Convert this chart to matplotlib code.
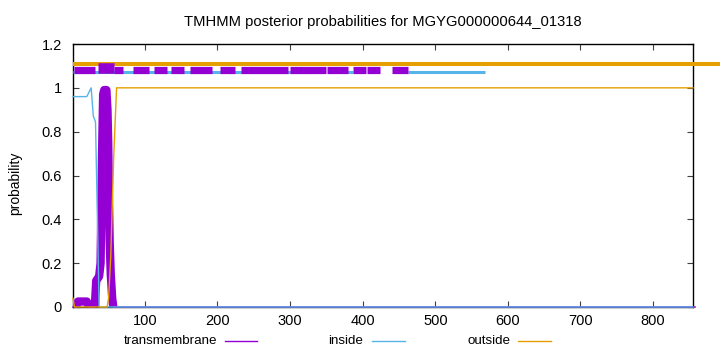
import matplotlib
matplotlib.use("Agg")
import matplotlib.pyplot as plt
from matplotlib.lines import Line2D
import numpy as np

plt.rcParams['font.family'] = ['Liberation Sans', 'DejaVu Sans']

title = "TMHMM posterior probabilities for MGYG000000644_01318"
seq_len = 855

# posterior probability curves (position, probability)
tm_pos = [1, 5, 8, 20, 23, 31, 33, 37, 39, 41, 42.5, 44, 47, 48.5, 49.5, 50.5, 51.5, 53, 55, 56.5, 858]
tm_val = [0.0, 0.0, 0.025, 0.025, 0.0, 0.0, 0.12, 0.14, 0.2, 0.7, 0.97, 0.99, 0.99, 0.9, 0.75, 0.5, 0.3, 0.15, 0.04, 0.0, 0.0]

inside_pos = [1, 20, 26, 29, 32, 37, 855]
inside_val = [0.96, 0.96, 1.0, 0.87, 0.845, 0.0, 0.0]

outside_pos = [1, 3, 48, 50, 53, 57, 61, 855]
outside_val = [0.04, 0.0, 0.0, 0.04, 0.23, 0.68, 1.0, 1.0]

# predicted topology bars at the top
outside_segments = [(1, 895)]
tm_helix_segments = [(35, 57)]
tm_segments = [(2, 31), (57, 70), (83, 105), (112, 130), (136, 154), (162, 192),
               (204, 224), (232, 297), (300, 349), (351, 380), (386, 405),
               (406, 424), (440, 462)]
inside_segments = [(1, 329), (375, 386), (462, 568)]

bar_y = {"outside": 1.110, "tm": 1.083, "helix": 1.089, "inside": 1.070}

xticks = [100, 200, 300, 400, 500, 600, 700, 800]
yticks = [0, 0.2, 0.4, 0.6, 0.8, 1.0, 1.2]
ytick_labels = ["0", "0.2", "0.4", "0.6", "0.8", "1", "1.2"]

c_tm = "#9400d3"
c_in = "#56b4e9"
c_out = "#e69f00"

fig = plt.figure(figsize=(7.2, 3.52), dpi=100)
ax = fig.add_axes([73/720, 1-307/352, (693-73)/720, (307-44)/352])

# top bars
for a, b in inside_segments:
    ax.plot([a, b], [bar_y["inside"]]*2, color=c_in, lw=2.2, solid_capstyle='butt', zorder=3)
for a, b in tm_segments:
    ax.plot([a, b], [bar_y["tm"]]*2, color=c_tm, lw=5.2, solid_capstyle='butt', zorder=4)
for a, b in outside_segments:
    ax.plot([a, b], [bar_y["outside"]]*2, color=c_out, lw=2.9, solid_capstyle='butt',
            zorder=5, clip_on=False)
for a, b in tm_helix_segments:
    ax.plot([a, b], [bar_y["helix"]]*2, color=c_tm, lw=7.6, solid_capstyle='butt', zorder=6)

# curves: thick where the transmembrane probability is non-zero, thin elsewhere
tm_pos_a = np.array(tm_pos, dtype=float)
tm_val_a = np.array(tm_val, dtype=float)
nz = tm_val_a > 0
keep = nz | np.r_[nz[1:], False] | np.r_[False, nz[:-1]]
thick_val = np.where(keep, tm_val_a, np.nan)
ax.plot(tm_pos_a, tm_val_a, color=c_tm, lw=1, zorder=6, clip_on=False)
ax.plot(tm_pos_a, thick_val, color=c_tm, lw=6, zorder=3, solid_capstyle='round',
        solid_joinstyle='round')
ax.plot(inside_pos, inside_val, color=c_in, lw=1, zorder=7, clip_on=False)
ax.plot(outside_pos, outside_val, color=c_out, lw=1, zorder=7, clip_on=False)

ax.set_xlim(1, seq_len)
ax.set_ylim(0, 1.2)
ax.set_xticks(xticks)
ax.set_yticks(yticks)
ax.set_yticklabels(ytick_labels)
ax.tick_params(direction='in', length=4, top=True, right=True, labelsize=10.5,
               width=0.8, color='#404040')
ax.tick_params(axis='y', pad=8)
ax.tick_params(axis='x', pad=5)
for s in ax.spines.values():
    s.set_linewidth(1)
    s.set_zorder(2)

fig.text(383/720, 1-22/352, title, ha='center', va='center', fontsize=10.6)
fig.text(15/720, 1-183/352, "probability", rotation=90, ha='center', va='center', fontsize=10)

# legend below the plot
legend_items = [("transmembrane", c_tm, 217, 225, 257),
                ("inside", c_in, 363, 372, 405),
                ("outside", c_out, 510, 518, 551)]
ly = 1-341/352
for label, col, tx, l0, l1 in legend_items:
    fig.text(tx/720, ly, label, ha='right', va='center', fontsize=9.6)
    fig.add_artist(Line2D([l0/720, l1/720], [ly, ly], color=col, lw=1,
                          transform=fig.transFigure))

fig.savefig("out.png", dpi=100)
